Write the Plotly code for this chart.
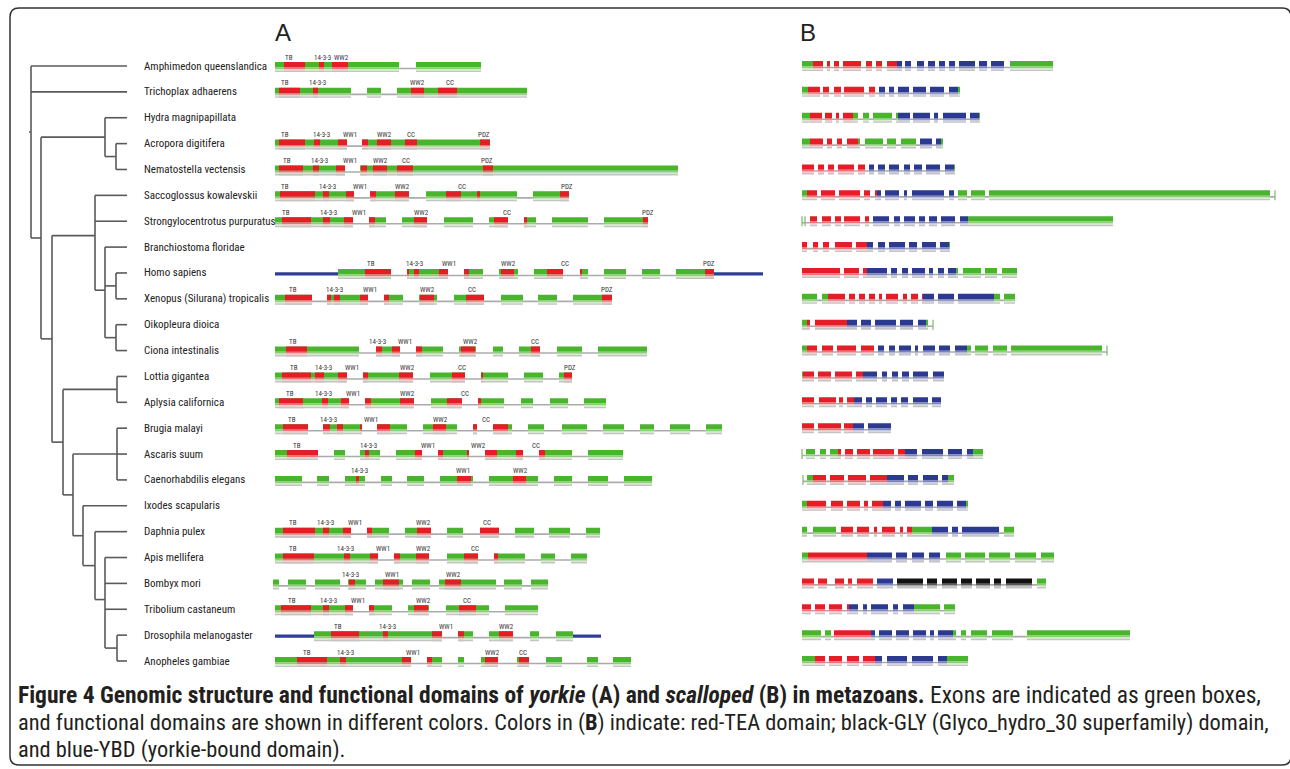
import plotly.graph_objects as go

# ---------------- data ----------------
species = [
    "Amphimedon queenslandica", "Trichoplax adhaerens", "Hydra magnipapillata",
    "Acropora digitifera", "Nematostella vectensis", "Saccoglossus kowalevskii",
    "Strongylocentrotus purpuratus", "Branchiostoma floridae", "Homo sapiens",
    "Xenopus (Silurana) tropicalis", "Oikopleura dioica", "Ciona intestinalis",
    "Lottia gigantea", "Aplysia californica", "Brugia malayi", "Ascaris suum",
    "Caenorhabdilis elegans", "Ixodes scapularis", "Daphnia pulex", "Apis mellifera",
    "Bombyx mori", "Tribolium castaneum", "Drosophila melanogaster", "Anopheles gambiae",
]

# tree: (branch depth, children); ints are leaf indices into species
tree = (31, [0, 1, (41, [(105, [2, (116, [3, 4])]),
                         (52, [(95, [5, 6, (105, [7, (116, [8, 9]), (116, [10, 11])])]),
                               (63, [(117, [12, 13]),
                                     (73, [(117, [14, 15, 16]),
                                           (83, [17, (95, [18, (105, [19, 20, 21, (117, [22, 23])])])])])])])])])
leaf_depth = 127

# Panel A (yorkie): exons, functional domains, domain labels, UTR segments
a_exons = {
    0: [(275, 399), (416, 481)],
    1: [(275, 351), (367, 381), (397, 527)],
    3: [(275, 347), (362, 490)],
    4: [(275, 345), (360, 678)],
    5: [(275, 354), (370, 409), (426, 517), (533, 569)],
    6: [(275, 353), (369, 386), (402, 427), (444, 473), (489, 508), (524, 536), (552, 588), (604, 648)],
    8: [(338, 391), (407, 448), (464, 483), (499, 518), (534, 563), (580, 588), (604, 626), (642, 660), (676, 714)],
    9: [(275, 312), (327, 368), (384, 403), (419, 437), (454, 484), (501, 523), (538, 557), (573, 612)],
    11: [(275, 359), (376, 400), (416, 443), (459, 476), (493, 503), (519, 540), (557, 582), (598, 647)],
    12: [(275, 347), (363, 413), (430, 465), (481, 508), (524, 543), (559, 572)],
    13: [(275, 349), (365, 414), (431, 462), (478, 504), (521, 533), (550, 568), (584, 606)],
    14: [(275, 308), (323, 361), (377, 407), (423, 457), (473, 477), (493, 512), (528, 544), (562, 587),
         (603, 624), (640, 654), (670, 690), (706, 722)],
    15: [(275, 318), (334, 345), (360, 380), (396, 422), (438, 469), (485, 523), (539, 572), (588, 623)],
    16: [(275, 302), (317, 329), (345, 365), (381, 392), (407, 424), (440, 473), (489, 538), (554, 572),
         (588, 608), (624, 652)],
    18: [(275, 351), (367, 389), (405, 431), (447, 463), (480, 499), (515, 534), (549, 570), (586, 600)],
    19: [(275, 378), (394, 429), (447, 478), (494, 525), (541, 555), (571, 587)],
    20: [(273, 279), (288, 306), (315, 340), (348, 366), (375, 403), (412, 430), (439, 496), (504, 522), (531, 548)],
    21: [(275, 353), (369, 392), (408, 429), (446, 489), (505, 538)],
    22: [(314, 442), (458, 473), (489, 513), (530, 539), (556, 573)],
    23: [(275, 411), (427, 442), (458, 464), (481, 498), (517, 529), (546, 562), (587, 598), (613, 631)],
}
a_domains = {
    0: [(284, 305), (319, 324), (332, 348)],
    1: [(279, 300), (313, 318), (411, 424), (438, 457)],
    3: [(279, 305), (314, 320), (338, 347), (362, 368), (377, 391), (405, 417), (480, 490)],
    4: [(279, 303), (313, 319), (336, 345), (361, 367), (373, 387), (397, 413), (483, 493)],
    5: [(280, 315), (323, 329), (346, 354), (370, 376), (395, 409), (446, 461), (477, 480), (560, 569)],
    6: [(282, 311), (323, 330), (344, 353), (369, 375), (414, 427), (494, 508), (524, 527), (643, 648)],
    8: [(365, 391), (407, 409), (414, 419), (439, 448), (464, 469), (501, 514), (547, 563), (580, 582), (705, 714)],
    9: [(285, 312), (327, 331), (334, 340), (360, 368), (384, 389), (420, 434), (466, 484), (602, 612)],
    11: [(286, 307), (376, 382), (392, 400), (416, 422), (461, 475), (531, 540)],
    12: [(282, 311), (315, 324), (338, 347), (363, 368), (399, 413), (452, 465), (481, 483), (564, 572)],
    13: [(279, 303), (322, 328), (341, 349), (365, 371), (400, 414), (447, 462), (478, 481)],
    14: [(283, 308), (323, 330), (337, 343), (360, 362), (377, 390), (433, 446), (473, 477), (493, 508)],
    15: [(287, 318), (365, 369), (415, 422), (438, 443), (467, 469), (485, 497), (516, 523), (539, 545)],
    16: [(356, 359), (457, 471), (513, 526)],
    18: [(283, 315), (323, 329), (343, 351), (367, 372), (417, 431), (480, 499)],
    19: [(283, 314), (344, 350), (370, 378), (394, 400), (416, 429), (464, 478), (494, 498)],
    20: [(349, 355), (383, 399), (445, 461)],
    21: [(281, 311), (323, 329), (345, 353), (369, 374), (414, 428), (459, 476)],
    22: [(331, 359), (383, 388), (432, 442), (458, 464), (499, 513)],
    23: [(297, 327), (340, 346), (402, 411), (427, 432), (485, 498), (519, 529)],
}
a_labels = {
    0: [("TB", 289), ("14-3-3", 322), ("WW2", 341)],
    1: [("TB", 285), ("14-3-3", 317), ("WW2", 417), ("CC", 450)],
    3: [("TB", 285), ("14-3-3", 321), ("WW1", 350), ("WW2", 384), ("CC", 411), ("PDZ", 484)],
    4: [("TB", 287), ("14-3-3", 319), ("WW1", 350), ("WW2", 380), ("CC", 406), ("PDZ", 487)],
    5: [("TB", 285), ("14-3-3", 327), ("WW1", 360), ("WW2", 402), ("CC", 462), ("PDZ", 567)],
    6: [("TB", 286), ("14-3-3", 328), ("WW1", 359), ("WW2", 421), ("CC", 507), ("PDZ", 648)],
    8: [("TB", 371), ("14-3-3", 414), ("WW1", 449), ("WW2", 508), ("CC", 565), ("PDZ", 709)],
    9: [("TB", 293), ("14-3-3", 334), ("WW1", 370), ("WW2", 427), ("CC", 472), ("PDZ", 607)],
    11: [("TB", 293), ("14-3-3", 377), ("WW1", 405), ("WW2", 470), ("CC", 535)],
    12: [("TB", 294), ("14-3-3", 323), ("WW1", 352), ("WW2", 407), ("CC", 462), ("PDZ", 570)],
    13: [("TB", 290), ("14-3-3", 323), ("WW1", 353), ("WW2", 407), ("CC", 465)],
    14: [("TB", 292), ("14-3-3", 328), ("WW1", 371), ("WW2", 440), ("CC", 486)],
    15: [("TB", 297), ("14-3-3", 368), ("WW1", 428), ("WW2", 478), ("CC", 536)],
    16: [("14-3-3", 359), ("WW1", 463), ("WW2", 520)],
    18: [("TB", 293), ("14-3-3", 325), ("WW1", 355), ("WW2", 423), ("CC", 487)],
    19: [("TB", 293), ("14-3-3", 345), ("WW1", 383), ("WW2", 423), ("CC", 475)],
    20: [("14-3-3", 350), ("WW1", 392), ("WW2", 453)],
    21: [("TB", 292), ("14-3-3", 328), ("WW1", 358), ("WW2", 423), ("CC", 467)],
    22: [("TB", 338), ("14-3-3", 387), ("WW1", 446), ("WW2", 506)],
    23: [("TB", 307), ("14-3-3", 345), ("WW1", 413), ("WW2", 492), ("CC", 523)],
}
a_utr = {8: [(275, 338), (714, 763)], 22: [(275, 314), (573, 601)]}

# Panel B (scalloped): each exon = (start, colour, break, colour, ..., end)
# g = exon, r = TEA, b = YBD, k = GLY
b_exons = {
    0: [(802, 'g', 813, 'r', 823), (827, 'r', 830), (834, 'r', 839), (843, 'r', 861), (866, 'r', 872), (876, 'r', 882),
        (887, 'r', 897, 'b', 902), (905, 'b', 911), (917, 'b', 924), (928, 'b', 935), (939, 'b', 945), (949, 'b', 955),
        (959, 'b', 975), (979, 'b', 987), (991, 'b', 1004), (1010, 'g', 1053)],
    1: [(802, 'g', 808, 'r', 820), (823, 'r', 829), (834, 'r', 841), (844, 'r', 864), (869, 'r', 875), (879, 'b', 885),
        (889, 'b', 894), (898, 'b', 909), (913, 'b', 926), (930, 'b', 944), (949, 'b', 958, 'g', 960)],
    2: [(802, 'g', 810, 'r', 822), (825, 'r', 832), (836, 'r', 839), (843, 'r', 853, 'g', 858), (863, 'g', 869),
        (873, 'g', 892), (896, 'g', 898, 'b', 910), (913, 'b', 930), (934, 'b', 938), (943, 'b', 966), (970, 'b', 979, 'g', 980)],
    3: [(802, 'g', 810, 'r', 823), (827, 'r', 832), (837, 'r', 842), (847, 'r', 858, 'g', 860), (865, 'g', 883),
        (887, 'g', 896), (901, 'g', 916), (920, 'b', 932), (936, 'b', 941, 'g', 943)],
    4: [(802, 'r', 814), (818, 'r', 824), (828, 'r', 834), (838, 'r', 854), (858, 'r', 865), (869, 'b', 874), (878, 'b', 885),
        (889, 'b', 899), (904, 'b', 910), (914, 'b', 922), (926, 'b', 940), (945, 'b', 954, 'g', 955)],
    5: [(802, 'g', 807, 'r', 817), (821, 'r', 835), (839, 'r', 860), (864, 'r', 870), (875, 'r', 877, 'b', 881),
        (885, 'b', 899), (904, 'b', 907), (912, 'b', 944), (949, 'b', 954), (958, 'g', 967), (971, 'g', 985), (989, 'g', 1270)],
    6: [(810, 'r', 817), (822, 'r', 831), (835, 'r', 841), (844, 'r', 860), (865, 'r', 869), (873, 'b', 889), (894, 'b', 900),
        (904, 'b', 915), (919, 'b', 925), (929, 'b', 937), (941, 'b', 955), (960, 'b', 968, 'g', 1113)],
    7: [(802, 'r', 807), (813, 'r', 818), (823, 'r', 829), (835, 'r', 852), (856, 'r', 867, 'b', 873), (878, 'b', 885),
        (889, 'b', 905), (909, 'b', 917), (922, 'b', 936), (940, 'b', 949, 'g', 950)],
    8: [(802, 'r', 840), (844, 'r', 859), (863, 'r', 867, 'b', 887), (891, 'b', 897), (902, 'b', 908), (912, 'b', 925),
        (929, 'b', 933), (938, 'b', 944), (948, 'b', 956, 'g', 958), (963, 'g', 981), (985, 'g', 997), (1002, 'g', 1017)],
    9: [(802, 'g', 817), (822, 'g', 828, 'r', 845), (849, 'r', 855), (859, 'r', 865), (869, 'r', 875), (879, 'r', 882),
        (886, 'r', 898), (903, 'r', 907), (911, 'r', 918), (922, 'r', 923, 'b', 934), (938, 'b', 954),
        (958, 'b', 994, 'g', 1000), (1004, 'g', 1015)],
    10: [(802, 'g', 807, 'r', 810), (815, 'r', 847, 'b', 857), (861, 'b', 871), (875, 'b', 896), (900, 'b', 913),
         (918, 'b', 926, 'g', 928)],
    11: [(802, 'g', 807, 'r', 817), (822, 'r', 833), (837, 'r', 856), (861, 'r', 874), (878, 'b', 884), (889, 'b', 895),
         (899, 'b', 911), (915, 'b', 918), (923, 'b', 935), (939, 'b', 950), (955, 'b', 967, 'g', 971), (975, 'g', 988),
         (993, 'g', 1007), (1011, 'g', 1102)],
    12: [(802, 'g', 803, 'r', 814), (818, 'r', 831), (835, 'r', 852), (856, 'r', 863, 'b', 877), (882, 'b', 887),
         (892, 'b', 898), (902, 'b', 909), (913, 'b', 928), (933, 'b', 944)],
    13: [(802, 'r', 814), (819, 'r', 836), (839, 'r', 843), (847, 'r', 854, 'b', 862), (866, 'b', 872), (876, 'b', 887),
         (891, 'b', 897), (901, 'b', 908), (913, 'b', 928), (932, 'b', 941)],
    14: [(802, 'r', 814), (818, 'r', 841), (844, 'r', 853, 'b', 864), (868, 'b', 891)],
    15: [(806, 'g', 815), (820, 'g', 826), (830, 'g', 838, 'r', 841), (845, 'r', 853), (857, 'r', 870), (873, 'r', 894),
         (898, 'r', 905, 'b', 917), (922, 'b', 943), (948, 'b', 962), (967, 'b', 973, 'g', 983)],
    16: [(807, 'g', 813, 'r', 826), (830, 'r', 844), (848, 'r', 866), (870, 'r', 887, 'b', 904), (908, 'b', 918),
         (923, 'b', 938), (942, 'b', 948, 'g', 954)],
    17: [(802, 'g', 807, 'r', 826), (831, 'r', 843), (847, 'r', 860), (864, 'r', 868), (872, 'r', 883, 'b', 891),
         (895, 'b', 901), (905, 'b', 921), (925, 'b', 933), (937, 'b', 953), (957, 'b', 966, 'g', 968)],
    18: [(802, 'g', 807), (813, 'g', 836), (841, 'r', 853), (857, 'r', 869), (874, 'r', 877), (882, 'r', 895),
         (900, 'r', 903), (907, 'r', 912, 'g', 932, 'b', 948), (952, 'b', 958), (962, 'b', 999), (1004, 'g', 1014)],
    19: [(802, 'g', 808, 'r', 867, 'b', 892), (896, 'b', 907), (912, 'b', 924), (929, 'b', 940), (946, 'g', 961),
         (965, 'g', 985), (989, 'g', 1010), (1015, 'g', 1036), (1041, 'g', 1054)],
    20: [(802, 'r', 814), (818, 'r', 827), (835, 'r', 844), (848, 'r', 852), (857, 'r', 873), (877, 'b', 893),
         (897, 'k', 923), (927, 'k', 937), (942, 'k', 957), (961, 'k', 972), (976, 'k', 990), (994, 'k', 1001),
         (1006, 'k', 1032), (1037, 'g', 1046)],
    21: [(802, 'r', 811), (815, 'r', 825), (829, 'r', 842), (847, 'r', 849, 'b', 858), (863, 'b', 867), (871, 'b', 888),
         (893, 'b', 898), (903, 'b', 914, 'g', 940), (944, 'g', 955)],
    22: [(802, 'g', 821), (825, 'g', 831), (834, 'r', 871, 'b', 875), (879, 'b', 892), (896, 'b', 909), (913, 'b', 926),
         (930, 'b', 934), (938, 'b', 953, 'g', 956), (961, 'g', 966), (971, 'g', 987), (992, 'g', 1013), (1027, 'g', 1130)],
    23: [(802, 'g', 815, 'r', 825), (829, 'r', 842), (847, 'r', 859), (863, 'r', 875, 'b', 882), (887, 'b', 907),
         (912, 'b', 933), (938, 'b', 947, 'g', 968)],
}
b_ticks = {5: [1275], 6: [802, 805], 10: [933], 11: [1107], 15: [802], 16: [803]}

caption_lines = [
    "<b>Figure 4 Genomic structure and functional domains of <i>yorkie</i> (A) and <i>scalloped</i> (B) in metazoans.</b>"
    " Exons are indicated as green boxes,",
    "and functional domains are shown in different colors. Colors in (<b>B</b>) indicate: red-TEA domain;"
    " black-GLY (Glyco_hydro_30 superfamily) domain,",
    "and blue-YBD (yorkie-bound domain).",
]

# ---------------- style ----------------
W, H = 1290, 769
ROW0, STEP = 66, 25.87
NARROW = "Roboto Condensed, Liberation Sans Narrow, Arial Narrow, Roboto, sans-serif"
PAL = {  # solid, mid, light
    'g': ("#48b52c", "#8ccf77", "#d2ecc8"),
    'r': ("#e41d26", "#ee7379", "#f8c9cc"),
    'b': ("#2b3990", "#7d84bd", "#c8cae4"),
    'k': ("#111111", "#5a5a5a", "#b5b5b5"),
}
SHADE = "#c4c4c4"


def row_y(i):
    return ROW0 + STEP * i


fig = go.Figure()

# ---------------- tree ----------------
tx, ty = [], []


def draw(node):
    if isinstance(node, int):
        return leaf_depth, row_y(node)
    depth, kids = node
    pos = [draw(k) for k in kids]
    ys = [p[1] for p in pos]
    for (cx, cy) in pos:
        tx.extend([depth, cx, None]); ty.extend([cy, cy, None])
    tx.extend([depth, depth, None]); ty.extend([min(ys), max(ys), None])
    return depth, sum(ys) / len(ys)


rx, ryy = draw(tree)
tx.extend([rx - 2, rx, None]); ty.extend([ryy, ryy, None])
fig.add_trace(go.Scatter(x=tx, y=ty, mode="lines", line=dict(color="#5a5a5a", width=1.6), hoverinfo="skip"))

# ---------------- gene drawing helpers ----------------
polys = {}


def add_rect(key, x0, x1, y0, y1):
    xs, ys = polys.setdefault(key, ([], []))
    xs.extend([x0, x1, x1, x0, x0, None]); ys.extend([y0, y0, y1, y1, y0, None])


def add_box(c, x0, x1, yc, dy=0):
    add_rect(("shade", dy), x0, x1, yc + 3.4, yc + 5)
    add_rect((c, 0, dy), x0, x1, yc - 5, yc + 0.3)
    add_rect((c, 1, dy), x0, x1, yc + 0.3, yc + 2.0)
    add_rect((c, 2, dy), x0, x1, yc + 2.0, yc + 3.4)


ix, iy = [], []
ux, uy = [], []
tkx, tky = [], []

# panel A
for i, exs in a_exons.items():
    yc = row_y(i) + 1
    ix.extend([exs[0][0], exs[-1][1], None]); iy.extend([yc + 1.5, yc + 1.5, None])
    for (x0, x1) in exs:
        add_box('g', x0, x1, yc, 0)
    for (x0, x1) in a_domains.get(i, []):
        add_box('r', x0, x1, yc, 1)
for i, segs in a_utr.items():
    yc = row_y(i) + 1
    for (x0, x1) in segs:
        ux.extend([x0, x1, None]); uy.extend([yc, yc, None])

# panel B
for i, exs in b_exons.items():
    yc = row_y(i)
    starts = [e[0] for e in exs] + b_ticks.get(i, [])
    ends = [e[-1] for e in exs] + b_ticks.get(i, [])
    ix.extend([min(starts), max(ends), None]); iy.extend([yc + 1.5, yc + 1.5, None])
    for e in exs:
        for k in range(0, len(e) - 1, 2):
            add_box(e[k + 1], e[k], e[k + 2], yc, 0)
    for t in b_ticks.get(i, []):
        tkx.extend([t, t, None]); tky.extend([yc - 5, yc + 5, None])

fig.add_trace(go.Scatter(x=ix, y=iy, mode="lines", line=dict(color="#ababab", width=1.6), hoverinfo="skip"))
fig.add_trace(go.Scatter(x=ux, y=uy, mode="lines", line=dict(color="#2f3d96", width=3.2), hoverinfo="skip"))
fig.add_trace(go.Scatter(x=tkx, y=tky, mode="lines", line=dict(color="#7cb86a", width=1.2), hoverinfo="skip"))

order = []
for dy in (0, 1):
    order.append(("shade", dy))
    for c in ('g', 'r', 'b', 'k'):
        for band in (0, 1, 2):
            order.append((c, band, dy))
for key in order:
    if key not in polys:
        continue
    xs, ys = polys[key]
    color = SHADE if key[0] == "shade" else PAL[key[0]][key[1]]
    fig.add_trace(go.Scatter(x=xs, y=ys, mode="lines", fill="toself", fillcolor=color,
                             line=dict(width=0, color=color), hoverinfo="skip"))

# ---------------- text ----------------
ann = []
for i, name in enumerate(species):
    ann.append(dict(x=142, y=row_y(i), text=name, xanchor="left", yanchor="middle", showarrow=False,
                    font=dict(family=NARROW, size=11, color="#222222")))
for i, labs in a_labels.items():
    for (t, x) in labs:
        ann.append(dict(x=x, y=row_y(i) - 8.5, text=t, xanchor="center", yanchor="middle", showarrow=False,
                        font=dict(family=NARROW, size=7, color="#333333")))
ann.append(dict(x=283, y=32, text="A", showarrow=False, xanchor="center", yanchor="middle",
                font=dict(family="Liberation Sans, Arial", size=24, color="#222222")))
ann.append(dict(x=808, y=32, text="B", showarrow=False, xanchor="center", yanchor="middle",
                font=dict(family="Liberation Sans, Arial", size=24, color="#222222")))
cap_sizes = [23.5, 22.4, 22.4]
for k, line in enumerate(caption_lines):
    ann.append(dict(x=16, y=695 + 27 * k, text=line, xanchor="left", yanchor="middle", showarrow=False,
                    font=dict(family=NARROW, size=cap_sizes[k], color="#231f20")))

# frame
L, T, R, B, rad = 10, 8, 1291, 765, 9
frame = (f"M {L+rad},{T} L {R-rad},{T} Q {R},{T} {R},{T+rad} L {R},{B-rad} Q {R},{B} {R-rad},{B} "
         f"L {L+rad},{B} Q {L},{B} {L},{B-rad} L {L},{T+rad} Q {L},{T} {L+rad},{T} Z")

fig.update_layout(
    width=W, height=H, margin=dict(l=0, r=0, t=0, b=0),
    paper_bgcolor="white", plot_bgcolor="white", showlegend=False,
    xaxis=dict(range=[0, W], visible=False, fixedrange=True),
    yaxis=dict(range=[H, 0], visible=False, fixedrange=True),
    annotations=ann,
    shapes=[dict(type="path", path=frame, xref="x", yref="y", line=dict(color="#333333", width=1.5))],
)
fig.write_html("out.html", config={"displayModeBar": False},
               post_script="document.body.style.margin='0';document.body.style.overflow='hidden';")
